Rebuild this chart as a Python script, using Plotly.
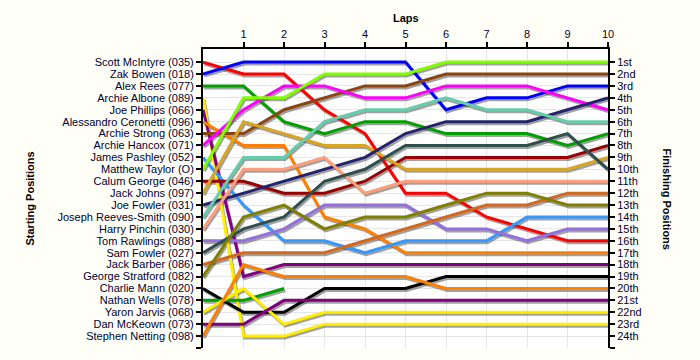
import plotly.graph_objects as go

# ---------------- data ----------------
laps = list(range(11))

drivers = [
    "Scott McIntyre (035)", "Zak Bowen (018)", "Alex Rees (077)", "Archie Albone (089)",
    "Joe Phillips (066)", "Alessandro Ceronetti (096)", "Archie Strong (063)",
    "Archie Hancox (071)", "James Pashley (052)", "Matthew Taylor (O)",
    "Calum George (046)", "Jack Johns (097)", "Joe Fowler (031)",
    "Joseph Reeves-Smith (090)", "Harry Pinchin (030)", "Tom Rawlings (088)",
    "Sam Fowler (027)", "Jack Barber (086)", "George Stratford (082)",
    "Charlie Mann (020)", "Nathan Wells (078)", "Yaron Jarvis (068)",
    "Dan McKeown (073)", "Stephen Netting (098)",
]

finish_labels = [
    "1st", "2nd", "3rd", "4th", "5th", "6th", "7th", "8th", "9th", "10th", "11th", "12th",
    "13th", "14th", "15th", "16th", "17th", "18th", "19th", "20th", "21st", "22nd", "23rd", "24th",
]

# position of each driver at laps 0..10 (None = retired)
positions = [
    [1, 2, 2, 5, 7, 12, 12, 14, 15, 16, 16],
    [2, 1, 1, 1, 1, 1, 5, 4, 4, 3, 3],
    [3, 3, 6, 7, 6, 6, 7, 7, 7, 8, 7],
    [4, 24, 24, 23, 23, 23, 23, 23, 23, 23, 23],
    [5, 19, 18, 18, 18, 18, 18, 18, 18, 18, 18],
    [6, 8, 8, 14, 15, 17, 17, 17, 17, 17, 17],
    [7, 7, 5, 4, 3, 3, 2, 2, 2, 2, 2],
    [8, 5, 3, 3, 4, 4, 3, 3, 3, 4, 5],
    [9, 13, 16, 16, 17, 16, 16, 16, 14, 14, 14],
    [10, 4, 4, 2, 2, 2, 1, 1, 1, 1, 1],
    [11, 11, 12, 12, 11, 9, 9, 9, 9, 9, 8],
    [12, 6, 7, 8, 8, 10, 10, 10, 10, 10, 9],
    [13, 12, 11, 10, 9, 7, 6, 6, 6, 5, 4],
    [14, 9, 9, 6, 5, 5, 4, 5, 5, 6, 6],
    [15, 10, 10, 9, 12, 11, 11, 11, 11, 11, 11],
    [16, 16, 15, 13, 13, 13, 15, 15, 16, 15, 15],
    [17, 15, 14, 11, 10, 8, 8, 8, 8, 7, 10],
    [18, 17, 17, 17, 16, 15, 14, 13, 13, 12, 12],
    [19, 14, 13, 15, 14, 14, 13, 12, 12, 13, 13],
    [20, 22, 22, 20, 20, 20, 19, 19, 19, 19, 19],
    [21, 21, 20, None, None, None, None, None, None, None, None],
    [22, 20, 23, 22, 22, 22, 22, 22, 22, 22, 22],
    [23, 23, 21, 21, 21, 21, 21, 21, 21, 21, 21],
    [24, 18, 19, 19, 19, 19, 20, 20, 20, 20, 20],
]

colors = [
    "#FF0000", "#0000FF", "#00A000", "#FFEE00", "#800080", "#FF8000", "#8B4513",
    "#FF00FF", "#3399FF", "#80FF00", "#990000", "#DAA520", "#23236E", "#66CDAA",
    "#FFA07A", "#9370DB", "#2F4F4F", "#D2691E", "#808000", "#000000",
    "#00A000", "#FFEE00", "#800080", "#FF8000",
]

# ---------------- layout constants ----------------
W, H = 700, 360
ML, MR, MT, MB = 203, 92, 49, 12
Y_TOP, Y_BOTTOM = -0.1, 25
X_MIN, X_MAX = 0, 10
SHADOW_DX_PX, SHADOW_DY_PX = 1.2, 2.0

plot_w = W - ML - MR
plot_h = H - MT - MB
dx = SHADOW_DX_PX * (X_MAX - X_MIN) / plot_w
dy = SHADOW_DY_PX * (Y_BOTTOM - Y_TOP) / plot_h

TEXT = "#000033"
FONT = "Liberation Sans, Arial, sans-serif"

fig = go.Figure()

# shadows (main axes, shifted ranges)
for pos in positions:
    fig.add_trace(go.Scatter(
        x=laps, y=pos, mode="lines", xaxis="x", yaxis="y",
        line=dict(color="rgba(70,70,70,0.5)", width=3),
        hoverinfo="skip", showlegend=False, connectgaps=False,
    ))

# coloured lines (overlay axes, true ranges)
for name, pos, col in zip(drivers, positions, colors):
    fig.add_trace(go.Scatter(
        x=laps, y=pos, mode="lines", xaxis="x2", yaxis="y2", name=name,
        line=dict(color=col, width=3), showlegend=False, connectgaps=False,
    ))

# dummy trace for right axis
fig.add_trace(go.Scatter(x=[None], y=[None], xaxis="x2", yaxis="y3",
                         showlegend=False, hoverinfo="skip"))

axis_font = dict(family=FONT, size=11, color=TEXT)

fig.update_layout(
    width=W, height=H,
    margin=dict(l=ML, r=MR, t=MT, b=MB),
    paper_bgcolor="#FFFFF7",
    plot_bgcolor="#FFFFFF",
    font=dict(family=FONT, size=11, color=TEXT),
    xaxis=dict(range=[X_MIN - dx, X_MAX - dx], visible=False, fixedrange=True),
    yaxis=dict(range=[Y_BOTTOM - dy, Y_TOP - dy], visible=False, fixedrange=True),
    xaxis2=dict(
        overlaying="x", anchor="y2", side="top", range=[X_MIN, X_MAX],
        tickvals=laps[1:], ticktext=[str(l) for l in laps[1:]],
        ticks="outside", ticklen=5, tickwidth=1.5, tickcolor="black",
        showline=True, linecolor="black", linewidth=2,
        showgrid=True, gridcolor="#E6E6E6", gridwidth=1,
        zeroline=False, tickfont=axis_font,
    ),
    yaxis2=dict(
        overlaying="y", anchor="x2", side="left", range=[Y_BOTTOM, Y_TOP],
        tickvals=list(range(1, 26)), ticktext=drivers + [""],
        ticks="outside", ticklen=5, tickwidth=1.5, tickcolor="black",
        showline=True, linecolor="black", linewidth=2,
        showgrid=True, gridcolor="#E6E6E6", gridwidth=1,
        zeroline=False, tickfont=axis_font,
    ),
    yaxis3=dict(
        overlaying="y", anchor="x2", side="right", range=[Y_BOTTOM, Y_TOP],
        tickvals=list(range(1, 26)), ticktext=finish_labels + [""],
        ticks="outside", ticklen=5, tickwidth=1.5, tickcolor="black",
        showline=True, linecolor="black", linewidth=2,
        showgrid=False, zeroline=False, tickfont=axis_font,
    ),
    annotations=[
        dict(text="<b>Laps</b>", xref="paper", yref="paper", x=0.5, y=1,
             xanchor="center", yanchor="middle", yshift=31, showarrow=False,
             font=dict(family=FONT, size=11, color="black")),
        dict(text="<b>Starting Positions</b>", xref="paper", yref="paper",
             x=0, y=0.5, xanchor="center", yanchor="middle", xshift=-174,
             textangle=-90, showarrow=False,
             font=dict(family=FONT, size=11, color="black")),
        dict(text="<b>Finishing Positions</b>", xref="paper", yref="paper",
             x=1, y=0.5, xanchor="center", yanchor="middle", xshift=59,
             textangle=90, showarrow=False,
             font=dict(family=FONT, size=11, color="black")),
    ],
)

fig.write_html(
    "out.html",
    config={"displayModeBar": False},
    post_script="document.body.style.margin='0';document.body.style.padding='0';",
)
